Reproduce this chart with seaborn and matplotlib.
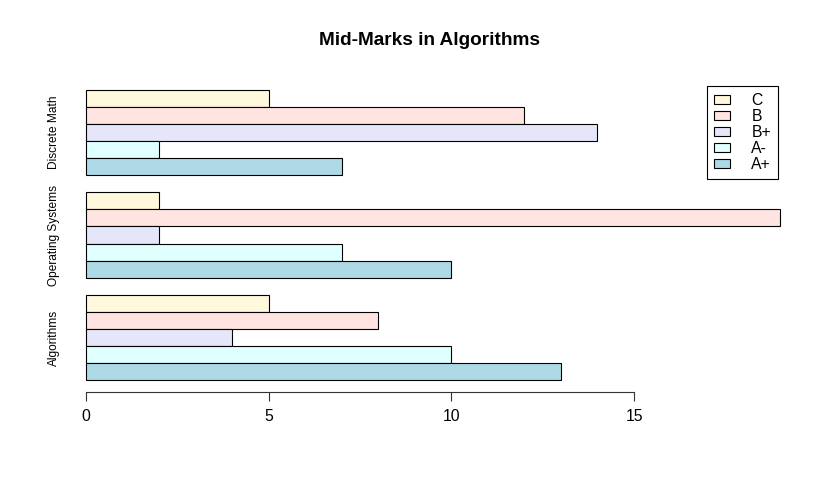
import seaborn as sns
import matplotlib.pyplot as plt
import pandas as pd

# ============== Data ==============
subjects = ["Algorithms", "Operating Systems", "Discrete Math"]
grades = ["A+", "A-", "B+", "B", "C"]
a_plus = [13, 10, 7]
a_minus = [10, 7, 2]
b_plus = [4, 2, 14]
b = [8, 19, 12]
c = [5, 2, 5]
colors = ["lightblue", "lightcyan", "lavender", "mistyrose", "cornsilk"]

rows = []
for grade, vals in zip(grades, [a_plus, a_minus, b_plus, b, c]):
    for subj, v in zip(subjects, vals):
        rows.append({"subject": subj, "grade": grade, "marks": v})
df = pd.DataFrame(rows)

sns.set_style("white")
plt.rcParams["font.family"] = ["Liberation Sans", "DejaVu Sans"]
plt.rcParams["text.color"] = "black"
plt.rcParams["xtick.color"] = "black"
plt.rcParams["ytick.color"] = "black"

fig = plt.figure(figsize=(8.22, 4.9), dpi=100)
ax = fig.add_axes([58 / 822, 98 / 490, 750 / 822, 314 / 490])

sns.barplot(
    data=df, y="subject", x="marks", hue="grade",
    order=subjects[::-1], hue_order=grades[::-1],
    palette=dict(zip(grades, colors)), orient="h",
    width=5 / 6, edgecolor="black", linewidth=0.8, saturation=1,
    errorbar=None, ax=ax,
)

# R-style limits (4% padding)
span = 2 + 5 / 6
ax.set_ylim(2 + 5 / 12 + 0.04 * span, -5 / 12 - 0.04 * span)
ax.set_xlim(-0.76, 19.76)

ax.set_xticks([0, 5, 10, 15])
for s in ["top", "right", "left"]:
    ax.spines[s].set_visible(False)
ax.spines["bottom"].set_bounds(0, 15)
ax.spines["bottom"].set_color("#333333")
ax.spines["bottom"].set_linewidth(0.8)
ax.tick_params(axis="x", length=6.5, width=0.8, color="#333333", labelsize=11.3, pad=6, bottom=True)
ax.tick_params(axis="y", length=0, labelsize=8.6, pad=-1.5)
for lab in ax.get_yticklabels():
    lab.set_rotation(90)
    lab.set_va("center")
ax.set_xlabel("")
ax.set_ylabel("")

ax.legend(
    loc="upper right", bbox_to_anchor=(0.96, 0.975), fontsize=11.3,
    frameon=True, fancybox=False, edgecolor="black", framealpha=1,
    handlelength=1.0, handleheight=0.55, labelspacing=0.07,
    borderpad=0.45, handletextpad=1.35, borderaxespad=0,
)
ax.get_legend().get_frame().set_linewidth(0.8)

fig.suptitle("Mid-Marks in Algorithms", x=0.523, y=0.935, fontsize=13.7, fontweight="bold")

fig.savefig("out.png", dpi=100)
